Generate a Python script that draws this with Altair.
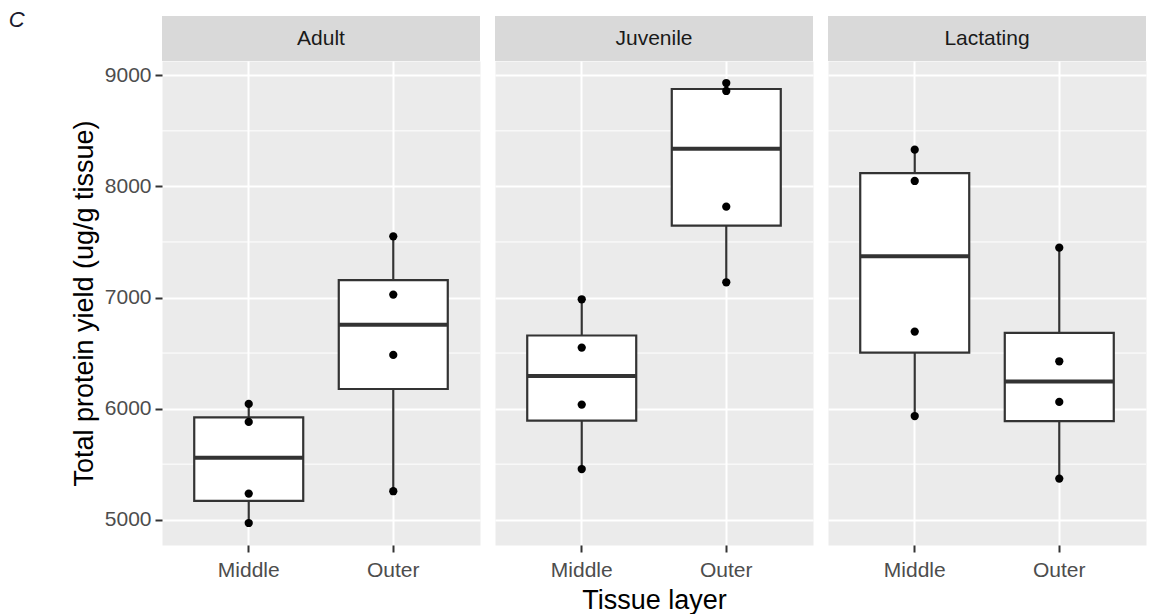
import altair as alt
import pandas as pd

groups = ["Adult", "Juvenile", "Lactating"]
layers = ["Middle", "Outer"]

adult_middle = [6042, 5880, 5235, 4970]
adult_outer = [7551, 7026, 6483, 5256]
juvenile_middle = [6984, 6549, 6036, 5456]
juvenile_outer = [8931, 8859, 7818, 7137]
lactating_middle = [8331, 8049, 6693, 5933]
lactating_outer = [7449, 6426, 6060, 5370]

major_ticks = [5000, 6000, 7000, 8000, 9000]
minor_ticks = [5500, 6500, 7500, 8500]

series = {
    ("Adult", "Middle"): adult_middle,
    ("Adult", "Outer"): adult_outer,
    ("Juvenile", "Middle"): juvenile_middle,
    ("Juvenile", "Outer"): juvenile_outer,
    ("Lactating", "Middle"): lactating_middle,
    ("Lactating", "Outer"): lactating_outer,
}
rows = []
for (g, l), vals in series.items():
    for v in vals:
        rows.append({"Group": g, "Layer": l, "Value": v})
df = pd.DataFrame(rows)

vmin, vmax = df["Value"].min(), df["Value"].max()
pad = (vmax - vmin) * 0.05
ydomain = [float(vmin - pad), float(vmax + pad)]

W = 318
H = 484
STRIP = 45
FONT = "Liberation Sans"
GRID = "white"
TEXT_COL = "#4D4D4D"
DARK = "#333333"

yscale = alt.Scale(domain=ydomain, nice=False, zero=False)
xscale = alt.Scale(domain=layers, paddingInner=0, paddingOuter=0.1)


def panel(i, g):
    first = i == 0
    middle = i == 1
    if first:
        yaxis = alt.Axis(values=major_ticks, format="d", title="Total protein yield (ug/g tissue)",
                         grid=True, gridColor=GRID, gridWidth=2, domain=False,
                         labelFont=FONT, labelFontSize=21, labelColor=TEXT_COL,
                         labelPadding=4, tickColor=DARK, tickSize=7, tickWidth=2,
                         titleFont=FONT, titleFontSize=27, titleFontWeight="normal",
                         titleColor="black", titlePadding=6)
    else:
        yaxis = alt.Axis(values=major_ticks, title=None, grid=True, gridColor=GRID,
                         gridWidth=2, domain=False, labels=False, ticks=False)
    xaxis = alt.Axis(title="Tissue layer" if middle else None, grid=True, gridColor=GRID,
                     gridWidth=2, bandPosition=0.5, domain=False, labelAngle=0,
                     labelFont=FONT, labelFontSize=21, labelColor=TEXT_COL,
                     labelPadding=7, tickColor=DARK, tickSize=7, tickWidth=2,
                     titleFont=FONT, titleFontSize=27, titleFontWeight="normal",
                     titleColor="black", titlePadding=7)

    sub = df[df["Group"] == g]
    minor_df = pd.DataFrame({"Value": minor_ticks})
    strip_df = pd.DataFrame({"Group": [g]})

    minor = alt.Chart(minor_df).mark_rule(color=GRID, strokeWidth=1).encode(
        y=alt.Y("Value:Q", scale=yscale, axis=yaxis)
    )
    box = alt.Chart(sub).mark_boxplot(
        extent="min-max", size=109, color=DARK, opacity=1,
        box={"fill": "white", "stroke": DARK, "strokeWidth": 2.2, "opacity": 1},
        median={"color": DARK, "thickness": 4, "opacity": 1},
        rule={"color": DARK, "strokeWidth": 2.2, "opacity": 1},
        ticks=False, outliers=False,
    ).encode(
        x=alt.X("Layer:N", scale=xscale, axis=xaxis),
        y=alt.Y("Value:Q", scale=yscale, axis=yaxis),
    )
    pts = alt.Chart(sub).mark_circle(size=68, color="black", opacity=1).encode(
        x=alt.X("Layer:N", scale=xscale, axis=xaxis),
        y=alt.Y("Value:Q", scale=yscale, axis=yaxis),
    )
    strip = alt.Chart(strip_df).mark_rect(color="#D9D9D9").encode(
        x=alt.value(0), x2=alt.value(W), y=alt.value(-STRIP), y2=alt.value(0)
    )
    strip_text = alt.Chart(strip_df).mark_text(
        font=FONT, fontSize=21, color="#1A1A1A", baseline="middle", align="center"
    ).encode(x=alt.value(W / 2), y=alt.value(-STRIP / 2), text="Group:N")

    return alt.layer(minor, box, pts, strip, strip_text).properties(width=W, height=H)


chart = alt.hconcat(*[panel(i, g) for i, g in enumerate(groups)], spacing=13).properties(
    title=alt.TitleParams("C", anchor="start", frame="bounds", font=FONT, fontSize=22,
                          fontStyle="italic", fontWeight="normal", color="#1A1A2E",
                          dx=-61, dy=16, offset=0),
    padding={"left": 0, "top": 0, "right": 0, "bottom": 0},
).configure_view(fill="#EBEBEB", stroke="transparent")

chart.save("out.html", embed_options={"renderer": "svg", "actions": False})
